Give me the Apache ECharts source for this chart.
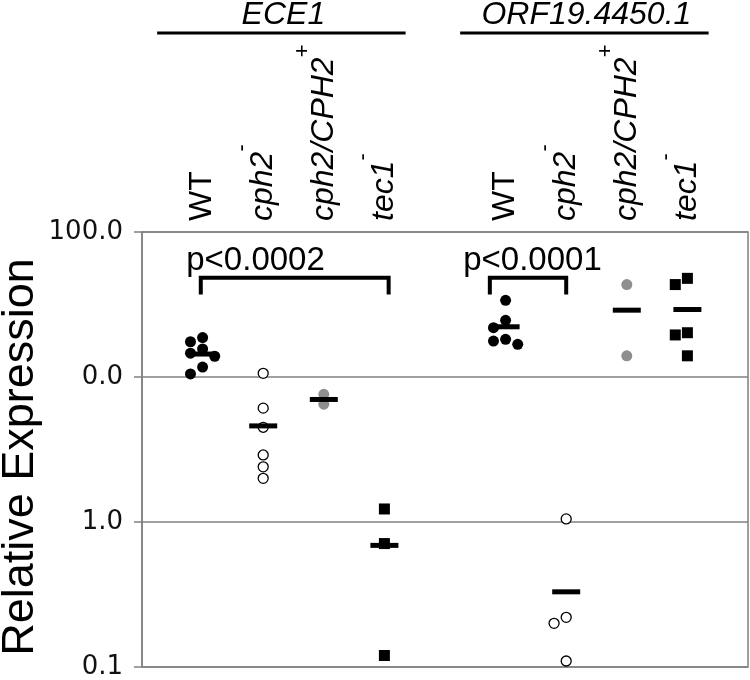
<!DOCTYPE html>
<html><head><meta charset="utf-8">
<script src="https://cdn.jsdelivr.net/npm/echarts@6/dist/echarts.min.js"></script>
<style>html,body{margin:0;padding:0;background:#fff}#c{width:750px;height:680px}</style>
</head><body><div id="c"></div>
<script>
// ---- data ----
const genes = ['ECE1', 'ORF19.4450.1'];
const strains = ['WT', 'cph2', 'cph2/CPH2', 'tec1'];
const strainSup = ['', '-', '+', '-'];
const yTickValues = [0.1, 1, 10, 100];
const yTickLabels = ['0.1', '1.0', '0.0', '100.0'];
const pLabels = ['p<0.0002', 'p<0.0001'];

const ece1WT = [18.7, 17.5, 15.6, 14.6, 13.9, 11.7, 10.5];
const ece1Cph2 = [10.6, 6.1, 4.5, 2.9, 2.4, 2.0];
const ece1Cph2CPH2 = [7.6, 6.5];
const ece1Tec1 = [1.23, 0.71, 0.12];
const ece1Medians = [14.4, 4.6, 7.0, 0.69];

const orfWT = [33.8, 24.6, 21.9, 18.2, 17.7, 16.8];
const orfCph2 = [1.05, 0.22, 0.20, 0.11];
const orfCph2CPH2 = [43.4, 14.0];
const orfTec1 = [47.9, 43.4, 20.2, 19.5, 14.0];
const orfMedians = [22.2, 0.33, 28.9, 29.2];

const values = [
  [ece1WT, ece1Cph2, ece1Cph2CPH2, ece1Tec1],
  [orfWT, orfCph2, orfCph2CPH2, orfTec1]
];
const medians = [ece1Medians, orfMedians];

// ---- layout helpers ----
const GROUP_STRIDE = 5;
const LANE = 0.2;
function slot(g, s) { return g * GROUP_STRIDE + s; }
function lanes(vals) {
  const order = vals.map((v, i) => i).sort((a, b) => vals[b] - vals[a]);
  const placed = [], res = new Array(vals.length);
  const thr = 0.064;
  for (const i of order) {
    const lv = Math.log10(vals[i]);
    for (const lane of [0, -1, 1, -2, 2]) {
      if (!placed.some(p => p.lane === lane && Math.abs(p.lv - lv) < thr)) {
        res[i] = lane; placed.push({ lane, lv }); break;
      }
    }
  }
  return res;
}

const markerStyles = [
  { symbol: 'circle', symbolSize: 11, itemStyle: { color: '#000', opacity: 1 } },
  { symbol: 'circle', symbolSize: 10, itemStyle: { color: '#fff', borderColor: '#000', borderWidth: 1.3, opacity: 1 } },
  { symbol: 'circle', symbolSize: 11, itemStyle: { color: '#8e8e8e', opacity: 1 } },
  { symbol: 'rect', symbolSize: 11, itemStyle: { color: '#000', opacity: 1 } }
];

const series = [];
strains.forEach((st, s) => {
  const data = [];
  genes.forEach((gn, g) => {
    const vals = values[g][s];
    const ln = lanes(vals);
    vals.forEach((v, i) => data.push([slot(g, s) + ln[i] * LANE, v]));
  });
  series.push(Object.assign({ type: 'scatter', name: st, data, z: 3 }, markerStyles[s]));
});
const medData = [];
genes.forEach((gn, g) => medians[g].forEach((m, s) => medData.push([slot(g, s), m])));
series.push({ type: 'scatter', name: 'median', data: medData, symbol: 'rect', symbolSize: [28, 5],
  itemStyle: { color: '#000', opacity: 1 }, z: 4 });

// significance brackets (annotation geometry in axis units)
const bracketTop = 48.4, bracketLeg = 37;
const bracketX = [[-0.03, 3.07], [4.74, 6.0]];
const bracketTextX = [-0.27, 4.3];
bracketX.forEach(([a, b]) => {
  series.push({ type: 'line', data: [[a, bracketLeg], [a, bracketTop], [b, bracketTop], [b, bracketLeg]],
    symbol: 'none', lineStyle: { color: '#000', width: 4, cap: 'butt', join: 'miter' }, z: 5, silent: true });
});

const chart = echarts.init(document.getElementById('c'), null, { renderer: 'canvas' });
chart.setOption({
  animation: false,
  backgroundColor: '#fff',
  grid: { left: 142, right: 2, top: 232, bottom: 12, show: true, borderColor: '#808080', borderWidth: 1.5 },
  xAxis: { type: 'value', min: -1, max: 9, show: false },
  yAxis: {
    type: 'log', logBase: 10, min: 0.1, max: 100, splitNumber: 3,
    axisLine: { show: true, onZero: false, lineStyle: { color: '#808080', width: 1.5 } },
    axisTick: { show: true, length: 8, lineStyle: { color: '#808080', width: 1.5 } },
    axisLabel: {
      margin: 19, fontFamily: 'DejaVu Sans', fontSize: 26, color: '#111',
      formatter: v => {
        const i = yTickValues.findIndex(t => Math.abs(Math.log10(t) - Math.log10(v)) < 1e-6);
        return i >= 0 ? yTickLabels[i] : '';
      }
    },
    splitLine: { show: true, lineStyle: { color: '#808080', width: 1.5 } }
  },
  series
});

// ---- annotations ----
const px = x => chart.convertToPixel({ gridIndex: 0 }, [x, 1])[0];
const py = y => chart.convertToPixel({ gridIndex: 0 }, [0, y])[1];
const graphic = [];
graphic.push({ type: 'text', x: 21, y: 457, rotation: Math.PI / 2,
  style: { text: 'Relative Expression', font: '45px "Liberation Sans"', fill: '#000',
    align: 'center', verticalAlign: 'middle', textAlign: 'center', textVerticalAlign: 'middle' } });

genes.forEach((gn, g) => {
  const x1 = px(slot(g, 0) - 0.75), x2 = px(slot(g, 3) + 0.35);
  graphic.push({ type: 'line', shape: { x1, y1: 33, x2, y2: 33 }, style: { stroke: '#000', lineWidth: 3 } });
  graphic.push({ type: 'text', x: (x1 + x2) / 2 + 2, y: 15,
    style: { text: gn, font: 'italic 32px "Liberation Sans"', fill: '#000',
      align: 'center', verticalAlign: 'middle', textAlign: 'center', textVerticalAlign: 'middle' } });
  strains.forEach((st, s) => {
    const txt = s === 0 ? '{n|' + st + '}' : '{it|' + st + '}{sup|' + strainSup[s] + '}';
    graphic.push({ type: 'text', x: px(slot(g, s)), y: 221, rotation: Math.PI / 2,
      style: { text: txt, fill: '#000', align: 'left', verticalAlign: 'middle',
        textAlign: 'left', textVerticalAlign: 'middle',
        rich: {
          n: { font: '32px "Liberation Sans"', lineHeight: 64, fill: '#000' },
          it: { font: 'italic 32px "Liberation Sans"', lineHeight: 64, fill: '#000' },
          sup: { font: '22px "Liberation Sans"', lineHeight: 22, verticalAlign: 'top', fill: '#000' }
        } } });
  });
  graphic.push({ type: 'text', x: px(bracketTextX[g]), y: py(bracketTop) - 17,
    style: { text: pLabels[g], font: '33px "Liberation Sans"', fill: '#000',
      align: 'left', verticalAlign: 'middle', textAlign: 'left', textVerticalAlign: 'middle' } });
});
chart.setOption({ graphic });
</script>
</body></html>
